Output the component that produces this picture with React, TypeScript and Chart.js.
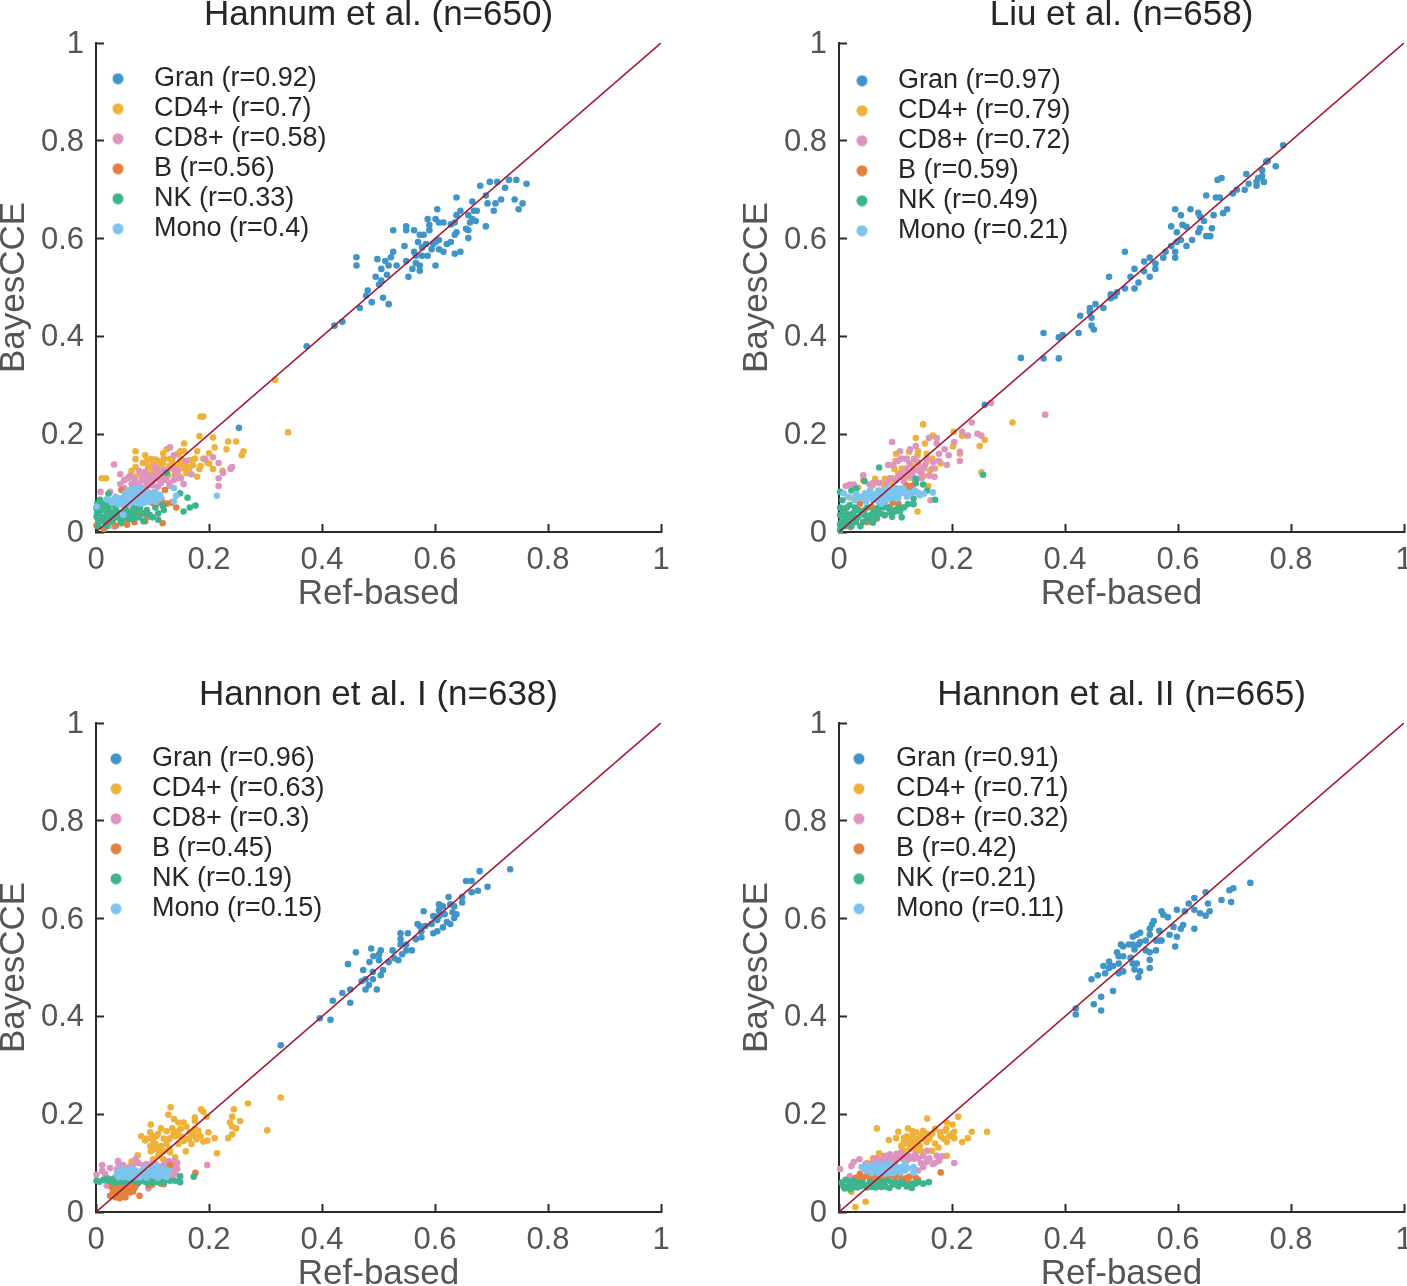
import React, { useEffect, useRef } from "react";
import { Chart, registerables } from "chart.js";

Chart.register(...registerables);

type Pt = [number, number];

const tickValues = [0, 0.2, 0.4, 0.6, 0.8, 1];
const seriesNames = ["Gran", "CD4+", "CD8+", "B", "NK", "Mono"];
const seriesColors = ["#3f94c8", "#eeb23a", "#dd94bf", "#e3803f", "#3cb48e", "#7cc4ee"];
const diagonal: Pt[] = [[0, 0], [1, 1]];

const titles = ["Hannum et al. (n=650)", "Liu et al. (n=658)", "Hannon et al. I (n=638)", "Hannon et al. II (n=665)"];
const rHannum = [0.92, 0.7, 0.58, 0.56, 0.33, 0.4];
const rLiu = [0.97, 0.79, 0.72, 0.59, 0.49, 0.21];
const rHannonI = [0.96, 0.63, 0.3, 0.45, 0.19, 0.15];
const rHannonII = [0.91, 0.71, 0.32, 0.42, 0.21, 0.11];

const hannumGran: Pt[] = [[.253,.213],[.373,.380],[.422,.422],[.436,.430],[.467,.458],[.488,.470],[.508,.479],[.518,.466],[.478,.483],[.481,.494],[.501,.506],[.505,.514],[.495,.522],[.515,.526],[.505,.538],[.461,.545],[.461,.562],[.498,.558],[.512,.554],[.518,.545],[.522,.562],[.526,.573],[.532,.545],[.549,.554],[.553,.522],[.560,.538],[.573,.534],[.573,.545],[.566,.550],[.563,.573],[.546,.585],[.570,.593],[.573,.608],[.580,.608],[.563,.617],[.549,.617],[.549,.625],[.526,.617],[.587,.640],[.590,.628],[.590,.617],[.604,.660],[.601,.640],[.607,.633],[.615,.633],[.628,.629],[.635,.633],[.638,.648],[.645,.657],[.638,.684],[.659,.648],[.666,.676],[.669,.657],[.674,.657],[.666,.640],[.662,.633],[.672,.636],[.690,.625],[.693,.672],[.690,.688],[.680,.708],[.697,.716],[.710,.716],[.724,.704],[.731,.720],[.744,.720],[.762,.712],[.707,.672],[.717,.680],[.704,.657],[.741,.680],[.755,.672],[.748,.660],[.655,.620],[.659,.617],[.659,.601],[.638,.613],[.635,.608],[.628,.593],[.621,.589],[.645,.573],[.635,.569],[.615,.573],[.607,.578],[.607,.597],[.601,.593],[.594,.578],[.597,.589],[.584,.589],[.577,.582],[.587,.565],[.577,.565],[.566,.565],[.601,.545]];
const hannumCD4: Pt[] = [[.317,.311],[.185,.236],[.190,.236],[.183,.196],[.207,.193],[.156,.181],[.210,.173],[.234,.185],[.231,.169],[.248,.185],[.340,.204],[.261,.165],[.258,.157],[.070,.165],[.070,.149],[.087,.157],[.083,.141],[.063,.125],[.070,.133],[.010,.110],[.018,.110],[.097,.149],[.119,.161],[.125,.169],[.149,.165],[.156,.165],[.179,.165],[.200,.161],[.197,.142],[.183,.129],[.207,.129],[.179,.113],[.224,.125],[.131,.149],[.119,.141],[.113,.133],[.143,.125],[.149,.113],[.166,.147],[.172,.137],[.128,.116],[.101,.140],[.070,.113],[.113,.106],[.143,.133],[.105,.148],[.155,.130],[.135,.140],[.125,.125],[.160,.120],[.092,.133],[.150,.150],[.09,.12],[.1,.125],[.108,.12],[.118,.128],[.13,.135],[.14,.12],[.15,.14],[.16,.135],[.165,.13],[.145,.16],[.135,.15],[.12,.15],[.175,.15],[.19,.15],[.185,.135],[.11,.145],[.09,.145],[.2,.14],[.145,.11],[.1,.11]];
const hannumCD8: Pt[] = [[.032,.138],[.131,.173],[.138,.157],[.159,.145],[.193,.149],[.207,.153],[.217,.141],[.225,.121],[.238,.129],[.241,.133],[.217,.110],[.217,.094],[.169,.118],[.155,.098],[.138,.106],[.124,.106],[.104,.133],[.076,.125],[.043,.118],[.056,.110],[.050,.106],[.043,.098],[.063,.098],[.077,.098],[.090,.113],[.101,.116],[.087,.123],[.110,.093],[.090,.093],[.130,.094],[.008,.082],[.025,.082],[.032,.011],[.122,.127],[.081,.106],[.100,.103],[.068,.108],[.115,.118],[.06,.115],[.07,.1],[.08,.118],[.09,.1],[.095,.108],[.1,.095],[.108,.11],[.115,.1],[.12,.11],[.125,.12],[.13,.1],[.14,.115],[.145,.125],[.15,.11],[.085,.09],[.07,.09],[.05,.09],[.11,.125],[.135,.13]];
const hannumB: Pt[] = [[.045,.086],[.122,.086],[.125,.058],[.142,.050],[.118,.018],[.001,.013],[.014,.006],[.045,.018],[.035,.013],[.077,.033],[.087,.022],[.101,.065],[.116,.065],[.134,.060],[.025,.021],[.060,.042],[.004,.020],[.030,.025],[.072,.040],[.05,.025],[.055,.015],[.06,.03],[.068,.02],[.09,.03],[.1,.06],[.11,.06]];
const hannumNK: Pt[] = [[.022,.078],[.007,.066],[.125,.121],[.149,.079],[.162,.070],[.176,.054],[.166,.050],[.155,.042],[.118,.054],[.110,.038],[.105,.050],[.087,.038],[.084,.022],[.066,.026],[.048,.035],[.001,.048],[.001,.031],[.007,.052],[.002,.038],[.010,.024],[.019,.038],[.016,.052],[.025,.031],[.031,.041],[.040,.038],[.048,.041],[.060,.038],[.072,.048],[.081,.038],[.006,.040],[.012,.030],[.022,.048],[.034,.052],[.002,.058],[.015,.020],[.028,.022],[.052,.050],[.064,.055],[.004,.012],[.004,.025],[.01,.045],[.013,.058],[.018,.028],[.02,.012],[.024,.056],[.028,.04],[.034,.03],[.036,.044],[.042,.028],[.044,.02],[.05,.03],[.054,.042],[.058,.026],[.066,.044],[.07,.034],[.076,.03],[.078,.05],[.09,.045],[.095,.035],[.1,.03],[.12,.045],[.11,.025]];
const hannumMono: Pt[] = [[.001,.052],[.019,.067],[.028,.060],[.037,.062],[.045,.069],[.051,.079],[.060,.086],[.066,.076],[.072,.082],[.078,.069],[.087,.076],[.096,.076],[.105,.072],[.113,.076],[.093,.062],[.069,.062],[.057,.062],[.048,.055],[.048,.035],[.138,.090],[.142,.074],[.138,.063],[.214,.074],[.078,.058],[.105,.062],[.055,.072],[.085,.066],[.097,.068],[.064,.070],[.03,.066],[.035,.072],[.04,.068],[.045,.06],[.05,.066],[.052,.074],[.058,.068],[.06,.078],[.065,.082],[.07,.072],[.072,.066],[.075,.076],[.08,.08],[.082,.07],[.085,.06],[.09,.07],[.09,.082],[.095,.064],[.1,.07],[.1,.08],[.105,.082],[.11,.068],[.115,.07],[.04,.056],[.06,.058],[.068,.088],[.08,.06],[.03,.06],[.056,.08],[.078,.09]];

const liuGran: Pt[] = [[.258,.260],[.322,.356],[.362,.355],[.389,.355],[.362,.407],[.389,.398],[.396,.403],[.424,.407],[.451,.414],[.447,.422],[.447,.438],[.444,.450],[.444,.458],[.427,.442],[.454,.466],[.468,.458],[.481,.478],[.481,.486],[.488,.482],[.492,.490],[.506,.498],[.523,.498],[.530,.510],[.516,.522],[.478,.522],[.523,.538],[.540,.533],[.550,.522],[.560,.538],[.540,.553],[.550,.561],[.560,.549],[.506,.573],[.574,.561],[.578,.573],[.588,.585],[.595,.561],[.595,.573],[.598,.593],[.605,.597],[.615,.585],[.625,.597],[.598,.613],[.588,.625],[.608,.628],[.615,.624],[.595,.660],[.605,.648],[.622,.660],[.636,.653],[.639,.645],[.646,.636],[.639,.621],[.636,.613],[.650,.605],[.657,.605],[.660,.621],[.663,.648],[.650,.688],[.667,.684],[.674,.684],[.670,.720],[.677,.724],[.680,.652],[.687,.660],[.697,.692],[.704,.700],[.718,.700],[.725,.712],[.721,.732],[.739,.708],[.739,.716],[.742,.724],[.749,.728],[.752,.716],[.749,.740],[.756,.757],[.759,.759],[.773,.748],[.786,.791]];
const liuCD4: Pt[] = [[.149,.220],[.136,.192],[.166,.197],[.152,.181],[.203,.205],[.218,.197],[.258,.188],[.249,.176],[.307,.224],[.252,.122],[.101,.160],[.124,.164],[.139,.157],[.155,.160],[.202,.175],[.214,.160],[.064,.109],[.081,.109],[.115,.106],[.126,.111],[.098,.129],[.161,.126],[.139,.042],[.093,.099],[.155,.143],[.139,.143],[.111,.130],[.034,.091],[.043,.106],[.158,.094],[.08,.095],[.095,.11],[.105,.12],[.12,.12],[.13,.135],[.145,.13],[.15,.115],[.17,.13],[.165,.15],[.14,.165],[.12,.15],[.1,.145],[.18,.14],[.06,.095],[.02,.07],[.075,.1]];
const liuCD8: Pt[] = [[.365,.240],[.269,.264],[.235,.224],[.218,.205],[.228,.197],[.245,.201],[.252,.197],[.204,.184],[.214,.164],[.214,.145],[.194,.157],[.191,.137],[.187,.169],[.173,.192],[.159,.192],[.173,.181],[.177,.160],[.177,.145],[.094,.184],[.108,.165],[.126,.169],[.136,.176],[.119,.149],[.133,.149],[.104,.145],[.087,.137],[.096,.137],[.119,.130],[.105,.113],[.140,.126],[.152,.137],[.167,.143],[.169,.113],[.043,.116],[.054,.097],[.019,.097],[.012,.094],[.026,.097],[.071,.100],[.084,.100],[.162,.065],[.130,.115],[.146,.110],[.115,.103],[.11,.12],[.12,.115],[.125,.14],[.13,.125],[.135,.105],[.14,.14],[.145,.12],[.15,.13],[.155,.15],[.16,.115],[.165,.13],[.11,.15],[.09,.11],[.1,.105],[.06,.1]];
const liuB: Pt[] = [[.008,.017],[.037,.058],[.058,.051],[.105,.058],[.126,.089],[.081,.034],[.067,.027],[.016,.027],[.090,.051],[.111,.050],[.030,.045],[.120,.095],[.01,.04],[.02,.01],[.03,.03],[.045,.045],[.05,.02],[.06,.04],[.07,.05],[.08,.055],[.095,.06],[.115,.085],[.13,.095]];
const liuNK: Pt[] = [[.071,.132],[.255,.117],[.136,.109],[.136,.100],[.045,.104],[.030,.089],[.022,.085],[.002,.082],[.006,.065],[.149,.097],[.156,.085],[.170,.066],[.132,.068],[.132,.057],[.122,.057],[.094,.031],[.111,.030],[.108,.042],[.099,.042],[.005,.048],[.002,.034],[.005,.021],[.002,.004],[.022,.012],[.019,.055],[.025,.038],[.043,.021],[.060,.019],[.040,.041],[.055,.034],[.073,.038],[.073,.051],[.087,.050],[.011,.027],[.034,.031],[.002,.015],[.002,.05],[.008,.04],[.01,.012],[.014,.05],[.016,.036],[.018,.02],[.024,.03],[.028,.05],[.03,.02],[.034,.045],[.038,.012],[.045,.035],[.05,.03],[.05,.05],[.056,.025],[.062,.04],[.066,.03],[.068,.048],[.08,.035],[.09,.04],[.1,.045],[.105,.05],[.08,.05],[.115,.05]];
const liuMono: Pt[] = [[.166,.081],[.143,.075],[.134,.085],[.126,.079],[.114,.089],[.105,.079],[.096,.085],[.084,.068],[.075,.058],[.067,.079],[.058,.072],[.046,.079],[.037,.072],[.028,.065],[.016,.072],[.008,.079],[.055,.085],[.073,.075],[.090,.079],[.108,.089],[.120,.072],[.078,.085],[.102,.068],[.03,.07],[.042,.07],[.048,.062],[.052,.072],[.056,.08],[.06,.065],[.062,.075],[.068,.07],[.07,.085],[.076,.07],[.08,.08],[.082,.062],[.088,.07],[.092,.075],[.095,.07],[.1,.08],[.1,.09],[.105,.07],[.11,.08],[.115,.082],[.12,.08],[.13,.08],[.14,.08],[.15,.078],[.03,.078],[.085,.088],[.07,.062]];

const hannonIGran: Pt[] = [[.327,.341],[.396,.396],[.415,.393],[.419,.432],[.450,.428],[.436,.448],[.450,.455],[.446,.507],[.460,.531],[.473,.495],[.470,.472],[.477,.476],[.477,.455],[.483,.464],[.490,.476],[.497,.455],[.504,.484],[.490,.491],[.508,.495],[.484,.511],[.491,.523],[.501,.515],[.501,.527],[.504,.535],[.487,.539],[.518,.511],[.525,.535],[.528,.519],[.535,.515],[.542,.527],[.549,.535],[.559,.535],[.539,.547],[.549,.547],[.539,.558],[.539,.570],[.552,.570],[.566,.558],[.576,.562],[.576,.574],[.573,.585],[.569,.589],[.583,.585],[.597,.570],[.604,.574],[.614,.582],[.627,.589],[.621,.593],[.594,.589],[.604,.597],[.597,.605],[.607,.605],[.617,.609],[.580,.615],[.607,.629],[.614,.625],[.607,.617],[.624,.644],[.627,.629],[.634,.625],[.631,.613],[.634,.601],[.638,.609],[.648,.644],[.648,.633],[.655,.677],[.665,.677],[.679,.697],[.665,.654],[.676,.657],[.693,.665],[.733,.701]];
const hannonICD4: Pt[] = [[.132,.214],[.128,.199],[.097,.179],[.138,.190],[.146,.183],[.155,.183],[.175,.193],[.175,.186],[.186,.210],[.190,.205],[.196,.195],[.244,.210],[.241,.195],[.269,.222],[.327,.234],[.255,.186],[.237,.183],[.241,.175],[.248,.171],[.241,.159],[.234,.151],[.303,.167],[.214,.120],[.210,.151],[.199,.163],[.197,.146],[.096,.163],[.115,.171],[.080,.155],[.087,.146],[.135,.171],[.137,.159],[.107,.155],[.101,.146],[.096,.135],[.105,.139],[.097,.124],[.113,.125],[.125,.139],[.131,.122],[.140,.112],[.146,.139],[.160,.149],[.166,.163],[.181,.166],[.178,.149],[.169,.139],[.159,.124],[.190,.144],[.074,.116],[.063,.103],[.101,.108],[.119,.108],[.11,.16],[.12,.15],[.125,.165],[.13,.15],[.115,.135],[.1,.155],[.14,.155],[.15,.155],[.155,.145],[.165,.15],[.17,.16],[.175,.155],[.185,.155],[.13,.13],[.12,.125],[.105,.128],[.145,.165],[.16,.175],[.175,.17],[.15,.17],[.09,.15],[.11,.115]];
const hannonICD8: Pt[] = [[.011,.096],[.011,.084],[.016,.078],[.001,.076],[.039,.104],[.070,.108],[.048,.096],[.037,.088],[.060,.093],[.128,.104],[.144,.100],[.144,.088],[.140,.078],[.197,.096],[.019,.054],[.093,.048],[.084,.095],[.113,.093],[.034,.071],[.025,.09],[.05,.09],[.065,.095],[.075,.1],[.09,.098],[.1,.1],[.12,.096],[.13,.098],[.135,.09],[.138,.104],[.14,.095],[.13,.085],[.135,.075],[.03,.06],[.02,.07],[.12,.065],[.04,.1],[.105,.098]];
const hannonIB: Pt[] = [[.176,.080],[.131,.096],[.077,.033],[.025,.033],[.047,.033],[.028,.050],[.037,.044],[.057,.047],[.069,.050],[.093,.054],[.120,.057],[.043,.054],[.051,.040],[.028,.057],[.042,.028],[.03,.04],[.034,.052],[.04,.036],[.044,.046],[.048,.05],[.052,.03],[.055,.055],[.06,.04],[.062,.055],[.066,.042],[.072,.056],[.035,.03],[.04,.058],[.05,.058],[.1,.056],[.115,.058]];
const hannonINK: Pt[] = [[.001,.064],[.013,.066],[.028,.067],[.043,.062],[.057,.064],[.072,.067],[.087,.062],[.101,.061],[.116,.062],[.131,.064],[.149,.073],[.149,.061],[.173,.072],[.022,.064],[.048,.066],[.065,.065],[.079,.064],[.110,.061],[.093,.059],[.036,.064],[.006,.062],[.018,.068],[.032,.06],[.05,.062],[.06,.068],[.075,.06],[.085,.066],[.098,.064],[.108,.066],[.12,.06],[.125,.066],[.14,.064]];
const hannonIMono: Pt[] = [[.037,.081],[.045,.088],[.054,.078],[.063,.088],[.072,.071],[.081,.084],[.090,.074],[.098,.088],[.107,.093],[.116,.078],[.125,.071],[.128,.084],[.048,.071],[.063,.073],[.078,.071],[.093,.081],[.105,.073],[.113,.088],[.040,.071],[.122,.088],[.04,.076],[.045,.08],[.05,.085],[.055,.072],[.058,.085],[.06,.08],[.066,.078],[.07,.085],[.075,.075],[.08,.078],[.085,.088],[.088,.08],[.095,.075],[.1,.082],[.102,.088],[.11,.078],[.118,.074],[.12,.082],[.125,.078],[.058,.07],[.09,.07],[.11,.07]];

const hannonIIGran: Pt[] = [[.419,.416],[.419,.404],[.451,.425],[.464,.412],[.464,.440],[.485,.452],[.447,.476],[.458,.484],[.471,.488],[.468,.503],[.478,.512],[.478,.499],[.485,.503],[.495,.488],[.503,.492],[.495,.508],[.492,.531],[.495,.523],[.503,.523],[.499,.547],[.503,.543],[.516,.520],[.520,.508],[.523,.496],[.530,.480],[.533,.492],[.527,.508],[.513,.547],[.520,.547],[.523,.537],[.530,.547],[.533,.552],[.543,.555],[.520,.563],[.527,.567],[.533,.571],[.543,.535],[.550,.531],[.561,.535],[.550,.516],[.550,.499],[.550,.567],[.550,.579],[.554,.588],[.557,.595],[.567,.575],[.567,.555],[.571,.555],[.561,.555],[.585,.567],[.592,.583],[.595,.543],[.598,.563],[.605,.579],[.609,.587],[.571,.615],[.574,.608],[.582,.603],[.598,.618],[.612,.615],[.619,.631],[.629,.642],[.629,.618],[.629,.579],[.639,.611],[.649,.606],[.656,.615],[.653,.631],[.649,.654],[.677,.638],[.694,.634],[.691,.658],[.698,.662],[.728,.673]];
const hannonIICD4: Pt[] = [[.156,.191],[.211,.195],[.191,.183],[.201,.179],[.235,.164],[.262,.164],[.228,.151],[.218,.143],[.191,.143],[.204,.151],[.204,.164],[.176,.132],[.170,.140],[.067,.171],[.122,.171],[.105,.164],[.101,.151],[.088,.147],[.115,.151],[.114,.139],[.126,.129],[.137,.163],[.149,.166],[.140,.149],[.155,.143],[.179,.163],[.188,.166],[.136,.126],[.191,.115],[.071,.120],[.087,.115],[.047,.021],[.029,.010],[.022,.041],[.055,.054],[.126,.136],[.143,.136],[.11,.135],[.115,.145],[.12,.14],[.12,.155],[.125,.15],[.13,.155],[.13,.14],[.135,.145],[.14,.135],[.145,.155],[.15,.15],[.155,.16],[.16,.15],[.165,.16],[.17,.17],[.18,.155],[.185,.15],[.195,.155],[.2,.16],[.19,.17],[.13,.165],[.115,.125],[.145,.125],[.165,.125],[.05,.1],[.06,.11]];
const hannonIICD8: Pt[] = [[.002,.088],[.022,.094],[.026,.102],[.036,.108],[.047,.098],[.019,.073],[.204,.100],[.183,.114],[.173,.115],[.177,.105],[.166,.098],[.155,.102],[.149,.092],[.140,.085],[.149,.114],[.156,.125],[.134,.109],[.123,.115],[.102,.119],[.084,.112],[.067,.102],[.058,.098],[.075,.105],[.111,.109],[.093,.102],[.065,.11],[.07,.108],[.08,.115],[.09,.118],[.095,.112],[.105,.115],[.11,.122],[.115,.112],[.12,.105],[.128,.11],[.135,.118],[.14,.11],[.06,.1],[.16,.11],[.17,.1],[.1,.105],[.085,.105],[.145,.1]];
const hannonIIB: Pt[] = [[.180,.081],[.037,.078],[.061,.075],[.078,.071],[.096,.075],[.111,.068],[.120,.064],[.136,.070],[.043,.069],[.055,.069],[.090,.078],[.067,.068],[.108,.076],[.03,.07],[.05,.075],[.07,.075],[.085,.07],[.1,.072],[.12,.07],[.125,.072],[.14,.066],[.04,.072],[.025,.064],[.065,.062]];
const hannonIINK: Pt[] = [[.008,.052],[.012,.066],[.025,.064],[.025,.051],[.040,.061],[.040,.053],[.055,.062],[.058,.051],[.073,.061],[.075,.051],[.089,.064],[.089,.049],[.114,.058],[.129,.058],[.129,.049],[.140,.061],[.149,.058],[.159,.061],[.099,.061],[.018,.061],[.005,.06],[.015,.052],[.02,.046],[.03,.06],[.032,.05],[.045,.056],[.05,.05],[.06,.058],[.065,.05],[.07,.056],[.08,.062],[.082,.052],[.095,.056],[.105,.052],[.11,.062],[.12,.052],[.135,.058],[.01,.048]];
const hannonIIMono: Pt[] = [[.040,.092],[.049,.085],[.058,.092],[.067,.085],[.075,.095],[.084,.085],[.093,.092],[.102,.085],[.111,.092],[.117,.085],[.117,.098],[.132,.092],[.132,.081],[.073,.078],[.096,.080],[.058,.080],[.081,.078],[.108,.081],[.067,.096],[.085,.098],[.045,.088],[.05,.095],[.055,.085],[.062,.09],[.07,.09],[.075,.085],[.08,.092],[.088,.088],[.09,.098],[.095,.09],[.1,.095],[.105,.088],[.11,.085],[.115,.092],[.07,.08],[.09,.08],[.122,.09],[.05,.084]];

const panels = [
  { title: titles[0], r: rHannum, left: 0, top: 0, legendWidth: 41.5, dotShift: 1.75, legendTop: 61, series: [hannumGran, hannumCD4, hannumCD8, hannumB, hannumNK, hannumMono] },
  { title: titles[1], r: rLiu, left: 743, top: 0, legendWidth: 42.5, dotShift: 1.25, legendTop: 63, series: [liuGran, liuCD4, liuCD8, liuB, liuNK, liuMono] },
  { title: titles[2], r: rHannonI, left: 0, top: 680, legendWidth: 39.5, dotShift: 2.75, legendTop: 61, series: [hannonIGran, hannonICD4, hannonICD8, hannonIB, hannonINK, hannonIMono] },
  { title: titles[3], r: rHannonII, left: 743, top: 680, legendWidth: 40.5, dotShift: 3.25, legendTop: 61, series: [hannonIIGran, hannonIICD4, hannonIICD8, hannonIIB, hannonIINK, hannonIIMono] },
];

const FONT = "'Liberation Sans', Arial, sans-serif";
const CW = 703;
const CH = 640;

function dot(color: string, shift: number) {
  const c = document.createElement("canvas");
  c.width = 24;
  c.height = 12;
  const g = c.getContext("2d")!;
  g.fillStyle = color;
  g.beginPath();
  g.arc(12 - shift, 6, 5.5, 0, Math.PI * 2);
  g.fill();
  return c;
}

function Panel({ p }: { p: (typeof panels)[number] }) {
  const ref = useRef<HTMLCanvasElement>(null);
  useEffect(() => {
    const axis = (label: string, isX: boolean) => ({
      type: "linear",
      min: 0,
      max: 1,
      afterBuildTicks: (s: any) => {
        s.ticks = tickValues.map((value) => ({ value }));
      },
      afterFit: (s: any) => {
        if (isX) s.height = 83;
        else s.width = 96;
      },
      border: { color: "#2b2b2b", width: 2 },
      grid: { drawOnChartArea: false, drawTicks: true, tickLength: -8, tickColor: "#2b2b2b", tickWidth: 2 },
      ticks: {
        autoSkip: false,
        maxRotation: 0,
        padding: isX ? 18 : 20,
        labelOffset: isX ? 0 : 1.5,
        color: "#555555",
        font: { family: FONT, size: 31 },
        callback: (v: any) => String(v),
      },
      title: {
        display: true,
        text: label,
        color: "#555555",
        font: { family: FONT, size: 35 },
        padding: isX ? { top: -2, bottom: 0 } : { top: -7, bottom: 0 },
      },
    });
    const chart = new Chart(ref.current!, {
      type: "scatter",
      data: {
        datasets: [
          {
            label: "diagonal",
            data: diagonal.map(([x, y]) => ({ x, y })),
            showLine: true,
            borderColor: "#a5152f",
            borderWidth: 1.6,
            pointRadius: 0,
            order: 0,
          } as any,
          ...p.series.map((pts, i) => ({
            label: `${seriesNames[i]} (r=${p.r[i]})`,
            data: pts.map(([x, y]) => ({ x, y })),
            backgroundColor: seriesColors[i],
            borderWidth: 0,
            pointRadius: 3.3,
            clip: 6,
            order: 10 - i,
          })),
        ],
      },
      options: {
        animation: false,
        responsive: false,
        layout: { padding: { left: 0, right: 42, top: 0, bottom: 25 } },
        scales: {
          x: axis("Ref-based", true) as any,
          y: axis("BayesCCE", false) as any,
        },
        plugins: {
          tooltip: { enabled: false },
          title: {
            display: true,
            text: p.title,
            fullSize: false,
            color: "#262626",
            font: { family: FONT, size: 35, weight: "normal" },
            padding: { top: -6, bottom: 7 },
          },
          legend: {
            display: true,
            position: "chartArea",
            align: "start",
            title: { display: true, text: " ", font: { size: 1 }, padding: { top: p.legendTop, bottom: 0 } },
            labels: {
              usePointStyle: true,
              pointStyleWidth: p.legendWidth,
              boxHeight: 12,
              padding: 3,
              color: "#262626",
              font: { family: FONT, size: 27 },
              generateLabels: () =>
                p.series.map((_, i) => ({
                  text: `${seriesNames[i]} (r=${p.r[i]})`,
                  fontColor: "#262626",
                  pointStyle: dot(seriesColors[i], p.dotShift),
                  fillStyle: seriesColors[i],
                  strokeStyle: seriesColors[i],
                  lineWidth: 0,
                  hidden: false,
                  datasetIndex: i + 1,
                })) as any,
            },
          },
        },
      },
    } as any);
    return () => chart.destroy();
  }, [p]);
  return (
    <canvas
      ref={ref}
      width={CW}
      height={CH}
      style={{ position: "absolute", left: p.left, top: p.top, width: CW, height: CH }}
    />
  );
}

export default function App() {
  return (
    <div style={{ position: "absolute", left: 0, top: 0, width: 1407, height: 1286, overflow: "hidden", background: "#fff" }}>
      {panels.map((p) => (
        <Panel key={p.title} p={p} />
      ))}
    </div>
  );
}
